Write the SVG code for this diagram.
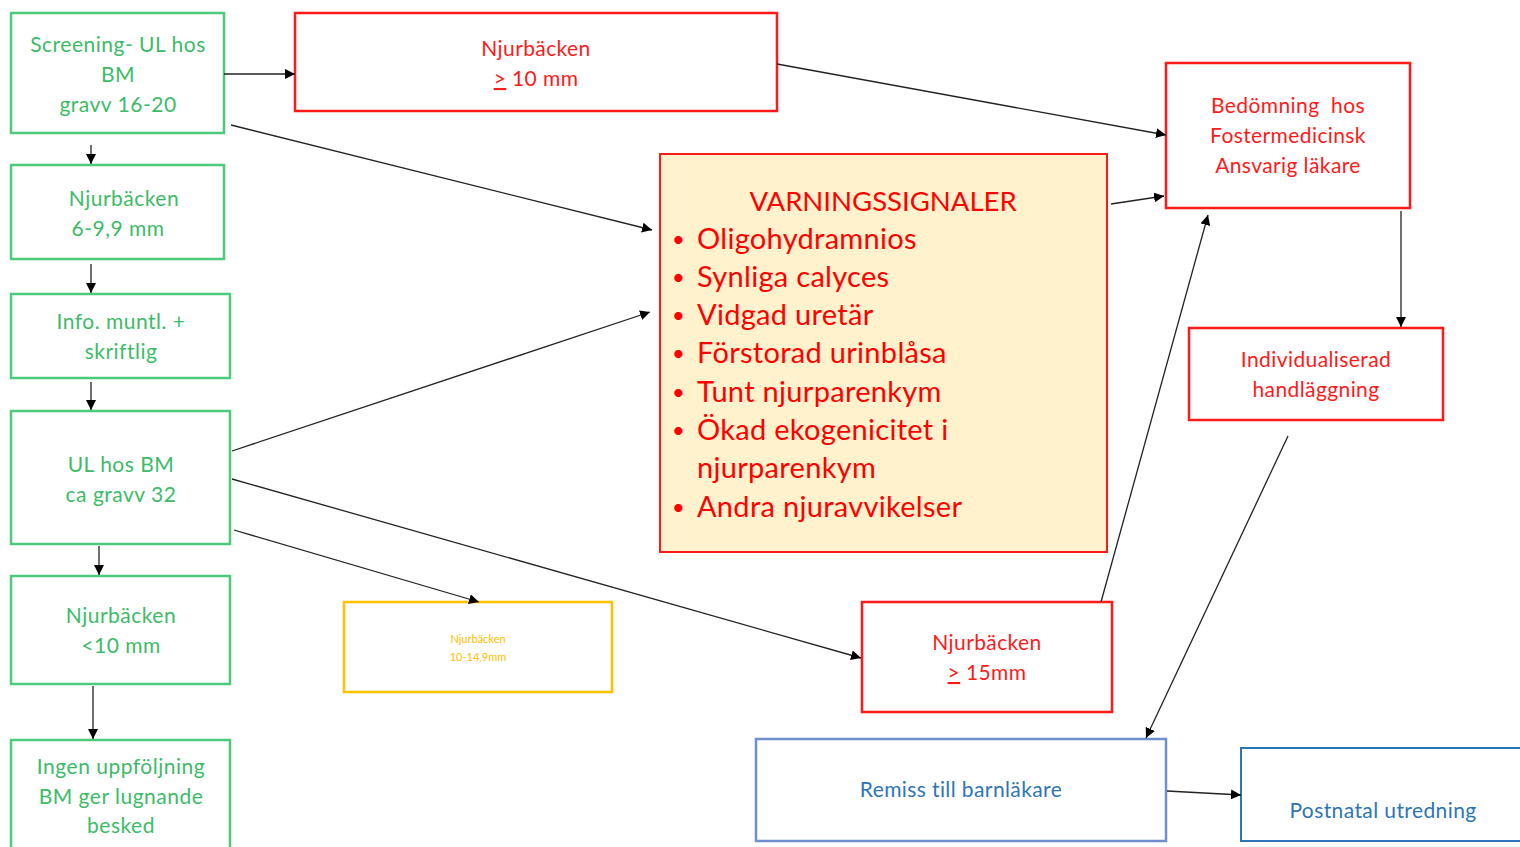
<svg xmlns="http://www.w3.org/2000/svg" width="1520" height="847" viewBox="0 0 1520 847">
<defs>
<marker id="ah" viewBox="0 0 10 10" refX="10" refY="5" markerWidth="10" markerHeight="10" markerUnits="userSpaceOnUse" orient="auto">
<path d="M0,0 L10,5 L0,10 z" fill="#000"/>
</marker>
<style>
text{font-family:Lato,"Open Sans","Liberation Sans",sans-serif;text-anchor:middle}
.g rect{fill:#fff;stroke:#4cc97a;stroke-width:2.5}
.g text{fill:#3dbb68;font-size:21px;letter-spacing:0.5px}
.r rect{fill:#fff;stroke:#ff1a1a;stroke-width:2.5}
.r text{fill:#ff1a1a;font-size:21px;letter-spacing:0.4px}
.w rect{fill:#fff2cc;stroke:#ff1a1a;stroke-width:2}
.w text{fill:#ff0000;font-size:29px;letter-spacing:0.3px;text-anchor:start}
.w .bl{font-size:22px}
.w .tt{font-size:27.5px;letter-spacing:0;text-anchor:middle}
.y rect{fill:#fff;stroke:#ffc000;stroke-width:2.5}
.y text{fill:#ffc000;font-size:11px}
.b rect{fill:#fff;stroke:#6f8fd0;stroke-width:2.5}
.b text{fill:#2e75b6;font-size:21px;letter-spacing:0.4px}
.b2 rect{fill:#fff;stroke:#2e75b6;stroke-width:2}
.conn line{stroke:#222;stroke-width:1.3;marker-end:url(#ah)}
</style>
</defs>
<rect width="1520" height="847" fill="#fff"/>

<g id="screening" class="g"><rect x="11" y="13" width="213" height="120"/>
<text x="118" y="52">Screening- UL hos</text><text x="118" y="82">BM</text><text x="118" y="112">gravv 16-20</text></g>
<g id="nb69" class="g"><rect x="11" y="165" width="213" height="94"/>
<text x="124" y="206">Njurbäcken</text><text x="118" y="236">6-9,9 mm</text></g>
<g id="info" class="g"><rect x="11" y="294" width="219" height="84"/>
<text x="121" y="329">Info. muntl. +</text><text x="121" y="359">skriftlig</text></g>
<g id="ul32" class="g"><rect x="11" y="411" width="219" height="133"/>
<text x="121" y="472">UL hos BM</text><text x="121" y="502">ca gravv 32</text></g>
<g id="nblt10" class="g"><rect x="11" y="576" width="219" height="108"/>
<text x="121" y="623">Njurbäcken</text><text x="121" y="653">&lt;10 mm</text></g>
<g id="ingen" class="g"><rect x="11" y="740" width="219" height="115"/>
<text x="121" y="774">Ingen uppföljning</text><text x="121" y="804">BM ger lugnande</text><text x="121" y="833">besked</text></g>

<g id="nbge10" class="r"><rect x="295" y="13" width="482" height="98"/>
<text x="536" y="56">Njurbäcken</text><text x="536" y="86"><tspan text-decoration="underline">&gt;</tspan> 10 mm</text></g>

<g id="varning" class="w"><rect x="660" y="154" width="447" height="398"/>
<text class="tt" x="883" y="211">VARNINGSSIGNALER</text>
<text class="bl" x="672" y="247">•</text><text x="697" y="249">Oligohydramnios</text>
<text class="bl" x="672" y="285">•</text><text x="697" y="287">Synliga calyces</text>
<text class="bl" x="672" y="323">•</text><text x="697" y="325">Vidgad uretär</text>
<text class="bl" x="672" y="361">•</text><text x="697" y="363">Förstorad urinblåsa</text>
<text class="bl" x="672" y="400">•</text><text x="697" y="402">Tunt njurparenkym</text>
<text class="bl" x="672" y="438">•</text><text x="697" y="440">Ökad ekogenicitet i</text>
<text x="697" y="478">njurparenkym</text>
<text class="bl" x="672" y="515">•</text><text x="697" y="517">Andra njuravvikelser</text></g>

<g id="bedomning" class="r"><rect x="1166" y="63" width="244" height="145"/>
<text x="1288" y="113" xml:space="preserve">Bedömning  hos</text><text x="1288" y="143">Fostermedicinsk</text><text x="1288" y="173">Ansvarig läkare</text></g>
<g id="indiv" class="r"><rect x="1189" y="328" width="254" height="92"/>
<text x="1316" y="367">Individualiserad</text><text x="1316" y="397">handläggning</text></g>

<g id="nb1014" class="y"><rect x="344" y="602" width="268" height="90"/>
<text x="478" y="643">Njurbäcken</text><text x="478" y="661">10-14,9mm</text></g>

<g id="nbge15" class="r"><rect x="862" y="602" width="250" height="110"/>
<text x="987" y="650">Njurbäcken</text><text x="987" y="680"><tspan text-decoration="underline">&gt;</tspan> 15mm</text></g>

<g id="remiss" class="b"><rect x="756" y="739" width="410" height="102"/>
<text x="961" y="797">Remiss till barnläkare</text></g>
<g id="postnatal" class="b b2"><rect x="1241" y="748" width="290" height="93"/>
<text x="1383" y="818">Postnatal utredning</text></g>

<g id="connectors" class="conn">
<line x1="224" y1="74" x2="295" y2="74"/>
<line x1="231" y1="125" x2="652" y2="230"/>
<line x1="91" y1="145" x2="91" y2="164"/>
<line x1="91" y1="264" x2="91" y2="293"/>
<line x1="91" y1="382" x2="91" y2="410"/>
<line x1="232" y1="451" x2="650" y2="312"/>
<line x1="232" y1="479" x2="861" y2="658"/>
<line x1="234" y1="530" x2="479" y2="602"/>
<line x1="99" y1="546" x2="99" y2="575"/>
<line x1="93" y1="686" x2="93" y2="739"/>
<line x1="777" y1="64" x2="1166" y2="135"/>
<line x1="1111" y1="204" x2="1164" y2="196"/>
<line x1="1101" y1="602" x2="1208" y2="215"/>
<line x1="1401" y1="211" x2="1401" y2="327"/>
<line x1="1288" y1="436" x2="1146" y2="738"/>
<line x1="1167" y1="791" x2="1241" y2="795"/>
</g>
</svg>
